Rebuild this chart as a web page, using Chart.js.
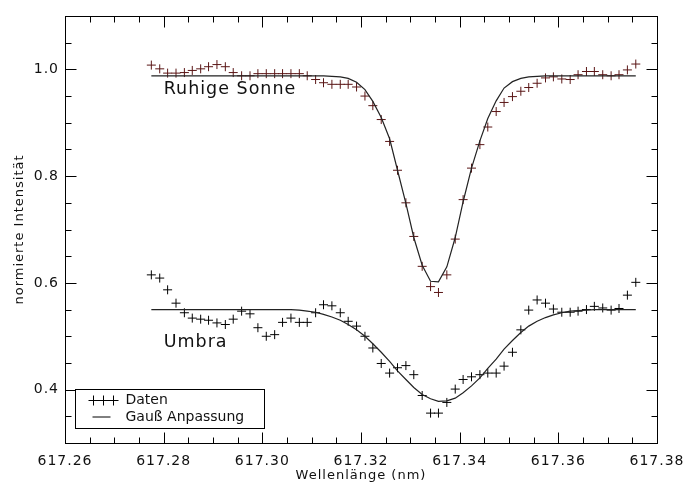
<!DOCTYPE html>
<html>
<head>
<meta charset="utf-8">
<script src="https://cdn.jsdelivr.net/npm/chart.js@4"></script>
<style>
  html, body { margin: 0; padding: 0; background: #ffffff; }
  #wrap { width: 685px; height: 484px; }
</style>
</head>
<body>
<div id="wrap"><canvas id="c" width="685" height="484"></canvas></div>
<script>
// ---- data ----
const wavelength = [
  617.2775, 617.2792, 617.2808, 617.2825, 617.2842, 617.2858, 617.2875, 617.2891, 617.2908, 617.2925,
  617.2941, 617.2958, 617.2975, 617.2991, 617.3008, 617.3025, 617.3041, 617.3058, 617.3075, 617.3091,
  617.3108, 617.3124, 617.3141, 617.3158, 617.3174, 617.3191, 617.3208, 617.3224, 617.3241, 617.3258,
  617.3274, 617.3291, 617.3307, 617.3324, 617.3341, 617.3357, 617.3374, 617.3391, 617.3407, 617.3424,
  617.3441, 617.3457, 617.3474, 617.3490, 617.3507, 617.3524, 617.3540, 617.3557, 617.3574, 617.3590,
  617.3607, 617.3624, 617.3640, 617.3657, 617.3673, 617.3690, 617.3707, 617.3723, 617.3740, 617.3757
];
const quietSun = [
  1.008, 1.001, 0.993, 0.993, 0.994, 0.998, 1.001, 1.005, 1.009, 1.005,
  0.994, 0.988, 0.988, 0.992, 0.992, 0.992, 0.992, 0.992, 0.992, 0.988,
  0.981, 0.975, 0.972, 0.972, 0.972, 0.967, 0.950, 0.932, 0.906, 0.865,
  0.811, 0.750, 0.687, 0.631, 0.593, 0.582, 0.615, 0.682, 0.756, 0.815,
  0.859, 0.892, 0.921, 0.938, 0.949, 0.959, 0.966, 0.974, 0.984, 0.986,
  0.982, 0.981, 0.990, 0.996, 0.996, 0.990, 0.988, 0.990, 0.999, 1.010
];
const quietSunFit = [
  0.988, 0.988, 0.988, 0.988, 0.988, 0.988, 0.988, 0.988, 0.988, 0.988,
  0.988, 0.988, 0.988, 0.988, 0.988, 0.988, 0.988, 0.988, 0.988, 0.988,
  0.988, 0.988, 0.987, 0.986, 0.983, 0.976, 0.962, 0.940, 0.910, 0.870,
  0.811, 0.749, 0.685, 0.633, 0.603, 0.602, 0.630, 0.685, 0.752, 0.815,
  0.866, 0.908, 0.941, 0.965, 0.977, 0.983, 0.986, 0.987, 0.988, 0.988,
  0.988, 0.988, 0.988, 0.988, 0.988, 0.988, 0.988, 0.988, 0.988, 0.988
];
const umbra = [
  0.615, 0.609, 0.587, 0.562, 0.544, 0.534, 0.532, 0.530, 0.525, 0.522,
  0.532, 0.547, 0.542, 0.516, 0.500, 0.503, 0.526, 0.534, 0.526, 0.526,
  0.544, 0.559, 0.557, 0.544, 0.528, 0.519, 0.500, 0.478, 0.449, 0.431,
  0.441, 0.445, 0.428, 0.389, 0.356, 0.356, 0.376, 0.401, 0.419, 0.424,
  0.428, 0.431, 0.431, 0.444, 0.470, 0.512, 0.549, 0.568, 0.562, 0.551,
  0.545, 0.545, 0.547, 0.550, 0.556, 0.553, 0.549, 0.552, 0.577, 0.601
];
const umbraFit = [
  0.550, 0.550, 0.550, 0.550, 0.550, 0.550, 0.550, 0.550, 0.550, 0.550,
  0.550, 0.550, 0.550, 0.550, 0.550, 0.550, 0.550, 0.550, 0.549, 0.547,
  0.545, 0.541, 0.536, 0.530, 0.522, 0.512, 0.500, 0.486, 0.470, 0.453,
  0.435, 0.419, 0.404, 0.391, 0.383, 0.378, 0.379, 0.384, 0.394, 0.407,
  0.422, 0.440, 0.457, 0.476, 0.492, 0.507, 0.519, 0.528, 0.535, 0.540,
  0.544, 0.547, 0.548, 0.549, 0.550, 0.550, 0.550, 0.550, 0.550, 0.550
];
const xTickValues = [617.26, 617.28, 617.30, 617.32, 617.34, 617.36, 617.38];
const yTickValues = [0.4, 0.6, 0.8, 1.0];
const xMinorStep = 0.005;
const yMinorStep = 0.05;
const seriesLabels = ['Ruhige Sonne', 'Umbra'];
const legendLabels = ['Daten', 'Gauß Anpassung'];
const axisTitles = { x: 'Wellenlänge (nm)', y: 'normierte Intensität' };

// ---- helpers ----
const FONT = 'DejaVu Sans';
const pts = (xs, ys) => xs.map((v, i) => ({ x: v, y: ys[i] }));
const QS_COLOR = '#5a1616';

const spacing = {
  id: 'spacing',
  beforeDraw(chart) { chart.ctx.letterSpacing = '1px'; }
};

const decor = {
  id: 'decor',
  afterDatasetsDraw(chart) {
    const { ctx, chartArea: a, scales } = chart;
    const sx = scales.x, sy = scales.y;
    const L = Math.round(a.left) + 0.5, R = Math.round(a.right) + 0.5;
    const T = Math.round(a.top) + 0.5, B = Math.round(a.bottom) + 0.5;
    ctx.save();
    ctx.strokeStyle = '#000';
    ctx.lineWidth = 1;
    ctx.strokeRect(L, T, R - L, B - T);

    const majorLen = 11, minorLen = 6;
    const near = (v, list) => list.some(t => Math.abs(t - v) < 1e-6);
    ctx.beginPath();
    const xMin = sx.min, xMax = sx.max;
    for (let k = 0; ; k++) {
      const v = xMin + k * xMinorStep;
      if (v > xMax + 1e-9) break;
      const len = near(v, xTickValues) ? majorLen : minorLen;
      const px = Math.round(sx.getPixelForValue(v)) + 0.5;
      ctx.moveTo(px, B); ctx.lineTo(px, B - len);
      ctx.moveTo(px, T); ctx.lineTo(px, T + len);
    }
    const yMin = sy.min, yMax = sy.max;
    for (let k = 0; ; k++) {
      const v = yMin + k * yMinorStep;
      if (v > yMax + 1e-9) break;
      const len = near(v, yTickValues) ? majorLen : minorLen;
      const py = Math.round(sy.getPixelForValue(v)) + 0.5;
      ctx.moveTo(L, py); ctx.lineTo(L + len, py);
      ctx.moveTo(R, py); ctx.lineTo(R - len, py);
    }
    ctx.stroke();

    // series annotations
    ctx.fillStyle = '#111';
    ctx.font = '17.5px "' + FONT + '"';
    ctx.letterSpacing = '1px';
    ctx.textAlign = 'left';
    ctx.textBaseline = 'alphabetic';
    ctx.fillText(seriesLabels[0], sx.getPixelForValue(617.2800), sy.getPixelForValue(0.9537));
    ctx.fillText(seriesLabels[1], sx.getPixelForValue(617.2800), sy.getPixelForValue(0.4805));

    // legend box (bottom-left inside plot)
    const bx = Math.round(a.left) + 10.5, by = Math.round(a.bottom) - 53.5;
    const bw = 189, bh = 39;
    ctx.fillStyle = '#fff';
    ctx.fillRect(bx, by, bw, bh);
    ctx.strokeStyle = '#000';
    ctx.strokeRect(bx, by, bw, bh);
    const r1 = by + 11, r2 = by + 27.5;
    ctx.beginPath();
    ctx.moveTo(bx + 13, r1); ctx.lineTo(bx + 43, r1);
    [18, 28, 38].forEach(dx => { ctx.moveTo(bx + dx, r1 - 5); ctx.lineTo(bx + dx, r1 + 5); });
    ctx.moveTo(bx + 17, r2); ctx.lineTo(bx + 35, r2);
    ctx.stroke();
    ctx.fillStyle = '#111';
    ctx.font = '14px "' + FONT + '"';
    ctx.letterSpacing = '0px';
    ctx.textBaseline = 'middle';
    ctx.fillText(legendLabels[0], bx + 50, r1);
    ctx.fillText(legendLabels[1], bx + 50, r2);
    ctx.restore();
  }
};

new Chart(document.getElementById('c'), {
  type: 'scatter',
  data: {
    datasets: [
      { label: 'Ruhige Sonne Daten', data: pts(wavelength, quietSun), showLine: false,
        pointStyle: 'cross', pointRadius: 4.5, borderColor: QS_COLOR, backgroundColor: QS_COLOR, borderWidth: 1, order: 1 },
      { label: 'Umbra Daten', data: pts(wavelength, umbra), showLine: false,
        pointStyle: 'cross', pointRadius: 4.5, borderColor: '#000', backgroundColor: '#000', borderWidth: 1, order: 1 },
      { label: 'Ruhige Sonne Gauß', data: pts(wavelength, quietSunFit), showLine: true, pointRadius: 0,
        borderColor: '#222', borderWidth: 1.2, tension: 0, fill: false, order: 0 },
      { label: 'Umbra Gauß', data: pts(wavelength, umbraFit), showLine: true, pointRadius: 0,
        borderColor: '#222', borderWidth: 1.2, tension: 0, fill: false, order: 0 }
    ]
  },
  options: {
    responsive: false,
    animation: false,
    events: [],
    layout: { padding: { top: 16, right: 28, left: 0, bottom: 0 } },
    plugins: { legend: { display: false }, tooltip: { enabled: false } },
    scales: {
      x: {
        type: 'linear', min: 617.26, max: 617.38,
        grid: { display: false, drawTicks: false },
        border: { display: false },
        afterBuildTicks: s => { s.ticks = xTickValues.map(v => ({ value: v })); },
        afterFit: s => { s.height = 41; s.paddingLeft = 0; s.paddingRight = 0; },
        ticks: { callback: v => Number(v).toFixed(2), padding: 10, color: '#111',
                 font: { family: FONT, size: 14 }, maxRotation: 0, autoSkip: false },
        title: { display: true, text: axisTitles.x, color: '#111',
                 font: { family: FONT, size: 13 }, padding: { top: 0, bottom: 1 } }
      },
      y: {
        type: 'linear', min: 0.3, max: 1.1,
        grid: { display: false, drawTicks: false },
        border: { display: false },
        afterBuildTicks: s => { s.ticks = yTickValues.map(v => ({ value: v })); },
        afterFit: s => { s.width = 65; s.paddingTop = 0; s.paddingBottom = 0; },
        ticks: { callback: v => Number(v).toFixed(1), padding: 6, color: '#111',
                 font: { family: FONT, size: 14 } },
        title: { display: true, text: axisTitles.y, color: '#111',
                 font: { family: FONT, size: 13 }, padding: { top: 12.2, bottom: 0 } }
      }
    }
  },
  plugins: [spacing, decor]
});
</script>
</body>
</html>
